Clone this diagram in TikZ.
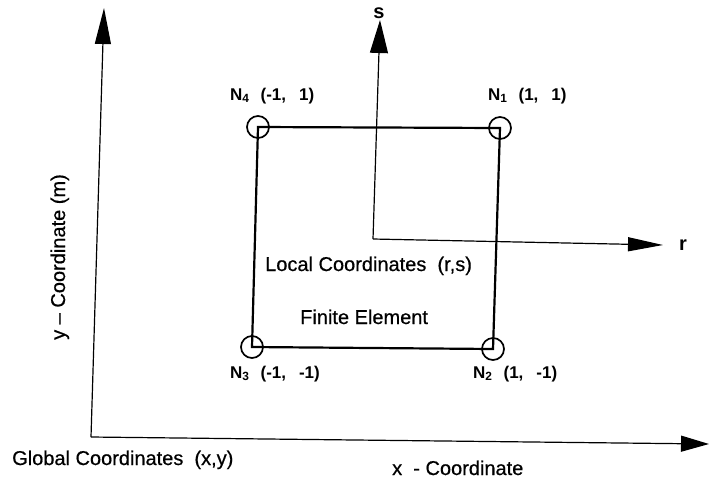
\documentclass[tikz,border=0pt]{standalone}
\usepackage{fontspec}
\setmainfont{Liberation Sans}
\newfontfamily\scanfont[FakeBold=0.6,Ligatures=TeX]{Liberation Sans}
\usetikzlibrary{arrows.meta}
\begin{document}
\begin{tikzpicture}[x=1pt,y=-1pt,
  axisline/.style={line width=1.2pt},
  elem/.style={line width=2.2pt},
  nodecirc/.style={circle, draw, line width=1.7pt, minimum size=22pt, inner sep=0pt},
  lbl/.style={font=\scanfont\fontsize{20}{24}\selectfont, inner sep=0pt, anchor=base west},
  axlbl/.style={font=\fontsize{20}{24}\selectfont\bfseries, inner sep=0pt, anchor=base},
  nlbl/.style={font=\fontsize{17}{20}\selectfont\bfseries, inner sep=0pt, anchor=base west},
]
\useasboundingbox (0,0) rectangle (711,483);
% global axes
\coordinate (GO) at (91,437);
\coordinate (GX) at (709,444);
\coordinate (GY) at (104,8);
\draw[axisline,-{Triangle[length=36pt,width=16pt]}] (GO) -- (GY);
\draw[axisline,-{Triangle[length=28pt,width=16pt]}] (GO) -- (GX);
% local axes
\coordinate (LO) at (373,239);
\coordinate (LS) at (380,20);
\coordinate (LR) at (663,245);
\draw[axisline,-{Triangle[length=33pt,width=18pt]}] (LO) -- (LS);
\draw[axisline,-{Triangle[length=35pt,width=14pt]}] (LO) -- (LR);
% element nodes
\node[nodecirc] (n4) at (258,127) {};
\node[nodecirc] (n1) at (500,128) {};
\node[nodecirc] (n2) at (493,349) {};
\node[nodecirc] (n3) at (252,347) {};
\draw[elem] (n4.center) -- (n1.center) -- (n2.center) -- (n3.center) -- cycle;
% node labels
\node[nlbl] (l4) at (230,100) {N\textsubscript{4}\hspace{11pt}(-1,\hspace{13pt}1)};
\node[nlbl] (l1) at (488,100) {N\textsubscript{1}\hspace{11pt}(1,\hspace{13pt}1)};
\node[nlbl] (l3) at (230,378) {N\textsubscript{3}\hspace{11pt}(-1,\hspace{13pt}-1)};
\node[nlbl] (l2) at (473,378) {N\textsubscript{2}\hspace{11pt}(1,\hspace{13pt}-1)};
% texts
\node[lbl] (loc) at (265,271) {Local Coordinates\ \ (r,s)};
\node[lbl] (fe) at (300,324) {Finite Element};
\node[lbl] (glob) at (12,465) {Global Coordinates\ \ (x,y)};
\node[lbl] (xc) at (392,475) {x\ \ - Coordinate};
\node[lbl, rotate=90] (yc) at (65,340) {y – Coordinate (m)};
\node[axlbl] (sl) at (379,18) {s};
\node[axlbl] (rl) at (683,250) {r};
\end{tikzpicture}
\end{document}
